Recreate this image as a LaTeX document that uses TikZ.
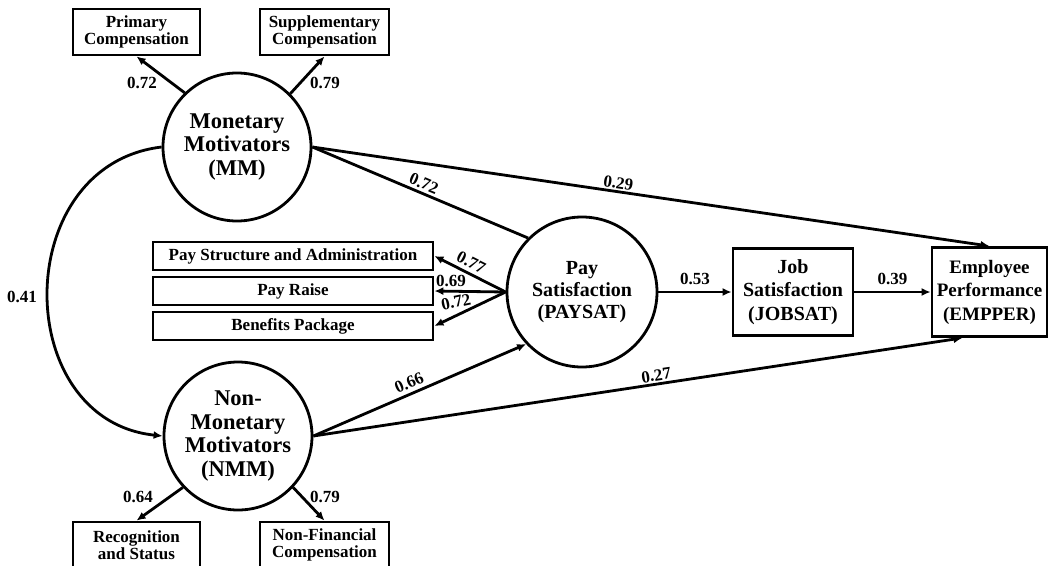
\documentclass[tikz,border=0pt]{standalone}
\usepackage{fontspec}
\setmainfont{Liberation Serif}
\usetikzlibrary{arrows.meta,calc}
\begin{document}
\begin{tikzpicture}[x=1pt,y=-1pt,
  lat/.style={circle, draw, line width=2.8pt, inner sep=0pt, align=center,
     font=\bfseries\fontsize{22.5}{23.5}\selectfont},
  obs/.style={rectangle, draw, line width=2.8pt, inner sep=0pt, align=center},
  smalltxt/.style={font=\bfseries\fontsize{17}{16.5}\selectfont},
  num/.style={font=\bfseries\fontsize{17}{17}\selectfont, inner sep=1.5pt},
  arr/.style={line width=2.8pt, -{Latex[length=9pt,width=8pt]}},
  ln/.style={line width=2.8pt}
]
\useasboundingbox (0,0) rectangle (1048,565);

% latent variables
\node[lat, minimum size=148pt] (mm) at (237,147) {Monetary\\Motivators\\(MM)};
\node[lat, minimum size=148pt] (nmm) at (238,436) {Non-\\Monetary\\Motivators\\(NMM)};
\node[lat, minimum size=150pt, font=\bfseries\fontsize{20}{22}\selectfont] (paysat) at (582,292) {Pay\\Satisfaction\\(PAYSAT)};

% observed indicators
\node[obs, smalltxt, minimum width=127pt, minimum height=46pt] (prim) at (136.5,32) {Primary\\Compensation};
\node[obs, smalltxt, minimum width=129pt, minimum height=46pt] (supp) at (324.5,32) {Supplementary\\Compensation};
\node[obs, smalltxt, minimum width=127pt, minimum height=46pt] (recog) at (136.5,545) {Recognition\\and Status};
\node[obs, smalltxt, minimum width=129pt, minimum height=46pt] (nonfin) at (324.5,545) {Non-Financial\\Compensation};

\node[obs, smalltxt, minimum width=280pt, minimum height=28pt] (psa) at (293,256) {Pay Structure and Administration};
\node[obs, smalltxt, minimum width=280pt, minimum height=28pt] (raise) at (293,291) {Pay Raise};
\node[obs, smalltxt, minimum width=280pt, minimum height=28pt] (ben) at (293,326) {Benefits Package};

\node[obs, font=\bfseries\fontsize{20}{23.5}\selectfont, minimum width=120pt, minimum height=87pt] (jobsat) at (793,292) {Job\\Satisfaction\\(JOBSAT)};
\node[obs, font=\bfseries\fontsize{19}{23.5}\selectfont, minimum width=115pt, minimum height=89pt] (empper) at (989.5,292) {Employee\\Performance\\(EMPPER)};

% measurement arrows
\draw[arr] (mm.134) -- (prim.south);
\draw[arr] (mm.45) -- (supp.south);
\draw[arr] (nmm.223) -- (recog.north);
\draw[arr] (nmm.317) -- (nonfin.north);
\node[num] (l1) at (142,83) {0.72};
\node[num] (l2) at (325,83) {0.79};
\node[num] (l3) at (138,497) {0.64};
\node[num] (l4) at (325,497) {0.79};

% covariance
\draw[arr] (mm.west) .. controls (10,165) and (10,420) .. (nmm.west);
\node[num] (l5) at (22,297) {0.41};

% pay satisfaction indicators
\draw[arr] (paysat.west) -- node[num, sloped, above=2pt, pos=0.55] {0.77} (psa.east);
\draw[arr] (paysat.west) -- (raise.east);
\draw[arr] (paysat.west) -- (ben.east);
\node[num] (l6) at (451,281) {0.69};
\node[num, rotate=12] (l7) at (456,302) {0.72};

% structural paths
\draw[ln] (mm.east) -- node[num, sloped, above=1pt, pos=0.5] {0.72} (paysat.135);
\draw[arr] (mm.east) -- node[num, sloped, above, pos=0.45] {0.29} (empper.north);
\draw[arr] (nmm.east) -- node[num, sloped, above=2pt, pos=0.47] {0.66} (paysat.223);
\draw[arr] (nmm.east) -- node[num, sloped, above, pos=0.53] {0.27} ([xshift=-27pt]empper.south);
\draw[arr] (paysat.east) -- node[num, above=4pt] {0.53} (jobsat.west);
\draw[arr] (jobsat.east) -- node[num, above=4pt] {0.39} (empper.west);
\end{tikzpicture}
\end{document}
